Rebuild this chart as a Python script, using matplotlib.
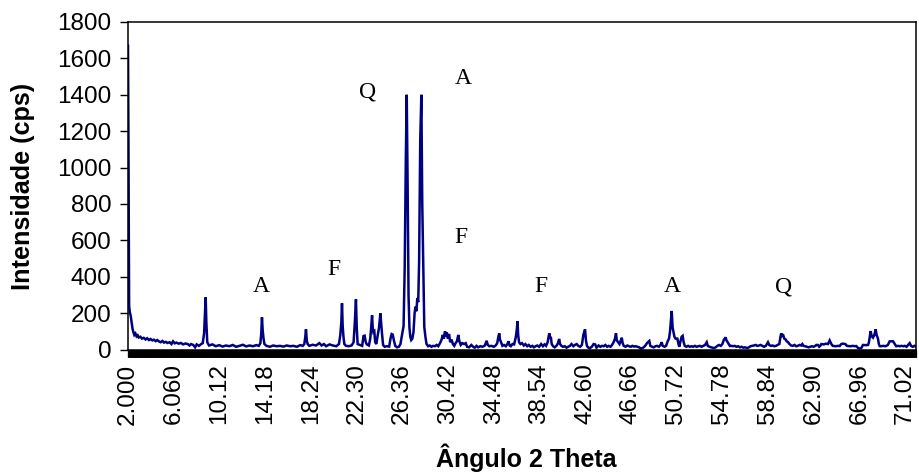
import numpy as np
import matplotlib
matplotlib.use("Agg")
import matplotlib.pyplot as plt

# Diffractogram: 2-theta angle (degrees) and measured intensity (cps)
two_theta = [
    2.00, 2.02, 2.04, 2.06, 2.08, 2.10, 2.16, 2.24, 2.32, 2.40, 2.48, 2.56, 2.66, 2.76, 2.86, 2.96,
    3.10, 3.24, 3.40, 3.56, 3.70, 3.86, 4.00, 4.16, 4.30, 4.46, 4.60, 4.76, 4.90, 5.06, 5.20, 5.36,
    5.50, 5.70, 5.86, 6.00, 6.16, 6.30, 6.50, 6.70, 6.90, 7.10, 7.30, 7.46, 7.60, 7.80, 7.96, 8.10,
    8.30, 8.50, 8.64, 8.76, 8.84, 8.90, 8.96, 9.04, 9.20,
    9.50, 9.80, 10.10, 10.40, 10.70, 11.00, 11.30, 11.60, 11.90, 12.20, 12.50, 12.80, 13.10, 13.40,
    13.62, 13.76, 13.84, 13.90, 13.96, 14.04, 14.12, 14.30, 14.60, 14.90, 15.20, 15.50, 15.80, 16.10,
    16.40, 16.70, 17.00, 17.30, 17.52, 17.66, 17.75, 17.81, 17.88, 17.96, 18.10, 18.40, 18.70, 19.00,
    19.20, 19.40, 19.60, 19.90, 20.20, 20.50, 20.74, 20.86, 20.95, 21.01, 21.07, 21.14, 21.22, 21.36,
    21.60, 21.86, 22.04, 22.15, 22.25, 22.32, 22.40, 22.60, 22.80,
    22.92, 23.02, 23.12, 23.22, 23.40, 23.52, 23.60, 23.68, 23.74, 23.80, 23.88, 23.96, 24.06, 24.16,
    24.30, 24.42, 24.48, 24.56, 24.66, 24.80, 25.00, 25.20, 25.32, 25.42, 25.52, 25.62, 25.74, 25.90,
    26.06, 26.20, 26.34, 26.48, 26.58, 26.68, 26.76, 26.84, 26.92, 27.00, 27.08, 27.16, 27.26, 27.36,
    27.46, 27.54, 27.62, 27.70, 27.78, 27.86, 27.96, 28.06, 28.14, 28.22, 28.32, 28.42, 28.52, 28.66,
    28.80, 28.96, 29.10, 29.26, 29.42, 29.56, 29.72, 29.86, 29.96, 30.06, 30.16, 30.24, 30.32, 30.42,
    30.52, 30.62, 30.74, 30.86, 30.98, 31.10, 31.22, 31.34, 31.44, 31.56, 31.70, 31.86, 32.00,
    32.12, 32.30, 32.50, 32.66, 32.80, 32.96, 33.10, 33.30, 33.50, 33.70, 33.86, 33.96, 34.10, 34.30,
    34.50, 34.66, 34.80, 34.90, 34.98, 35.04, 35.14, 35.26, 35.40, 35.56, 35.70, 35.80, 35.90, 36.00,
    36.16, 36.30, 36.44, 36.54, 36.60, 36.66, 36.74, 36.86, 37.00, 37.16, 37.30, 37.46, 37.60, 37.76,
    37.92, 38.06, 38.20, 38.36, 38.52, 38.70, 38.86, 39.00, 39.14, 39.28, 39.36, 39.43, 39.50, 39.56,
    39.64, 39.76, 39.90, 40.06, 40.20, 40.30, 40.38, 40.50, 40.64, 40.80, 40.96, 41.10, 41.26, 41.40,
    41.56, 41.70, 41.86, 42.00, 42.16, 42.32, 42.45, 42.60, 42.68, 42.78, 42.90, 43.04, 43.20, 43.36,
    43.50, 43.62, 43.80, 43.96, 44.10, 44.26, 44.40, 44.56, 44.70, 44.86, 45.00, 45.14, 45.26, 45.35,
    45.42, 45.54, 45.66, 45.78, 45.86, 45.94, 46.04,
    46.20, 46.36, 46.50, 46.66, 46.80, 46.96, 47.10, 47.26, 47.40, 47.56, 47.72, 47.86, 48.00, 48.10,
    48.31, 48.40, 48.56, 48.70, 48.86, 49.00, 49.16, 49.30, 49.41, 49.50, 49.66, 49.80, 49.94, 50.06,
    50.15, 50.30, 50.38, 50.44, 50.54, 50.64, 50.80, 50.90, 50.97, 51.06, 51.18, 51.27, 51.36, 51.46,
    51.60, 51.76, 51.90, 52.06, 52.20, 52.36,
    52.50, 52.66, 52.80, 52.96, 53.10, 53.26, 53.41, 53.50, 53.66, 53.80, 53.94, 54.05, 54.20, 54.36,
    54.50, 54.66, 54.80, 54.94, 55.02, 55.09, 55.16, 55.24, 55.36, 55.47, 55.60, 55.76, 55.90, 56.06,
    56.20, 56.36, 56.50, 56.66, 56.80, 57.01, 57.16, 57.30, 57.46, 57.60, 57.76, 57.90, 58.06, 58.20,
    58.36, 58.50, 58.66, 58.85, 58.96, 59.10, 59.26, 59.40, 59.56, 59.70, 59.86, 59.96, 60.03, 60.12,
    60.21, 60.30, 60.42, 60.52, 60.63, 60.76, 60.90, 61.06, 61.20, 61.36, 61.50, 61.66, 61.80, 61.90,
    62.00, 62.16, 62.30, 62.46,
    62.60, 62.76, 62.90, 63.06, 63.14, 63.29, 63.40, 63.50, 63.59, 63.80, 64.00, 64.18, 64.33, 64.48,
    64.60, 64.71, 64.90, 65.06, 65.22, 65.36, 65.50, 65.72, 65.86, 65.96, 66.20, 66.40, 66.56, 66.70,
    66.85, 67.00, 67.14, 67.29, 67.50, 67.74, 67.82, 67.88, 67.97, 68.04, 68.10, 68.18, 68.30, 68.42,
    68.50, 68.62, 68.70, 68.77, 68.90, 69.10, 69.30, 69.50, 69.66, 69.80, 69.96, 70.11, 70.24, 70.40,
    70.56, 70.70, 70.86, 71.00, 71.16, 71.30, 71.44, 71.56, 71.70, 71.86, 72.00,
]

intensity = [
    1670, 1450, 1150, 800, 450, 240, 205, 185, 150, 115, 95, 80, 88, 72, 78, 66,
    70, 60, 64, 55, 62, 52, 58, 50, 54, 46, 52, 44, 40, 47, 38, 42,
    36, 40, 30, 45, 34, 38, 32, 36, 28, 33, 30, 22, 30, 25, 12, 28,
    20, 30, 35, 90, 200, 287, 150, 40, 22,
    28, 18, 24, 16, 22, 18, 25, 15, 20, 26, 17, 22, 18, 24,
    20, 35, 90, 177, 110, 60, 30, 20, 15, 22, 18, 20, 16, 22,
    18, 20, 15, 24, 20, 30, 70, 111, 50, 30, 20, 26, 22, 35,
    22, 30, 18, 28, 22, 18, 30, 80, 150, 254, 130, 70, 30, 20,
    18, 22, 40, 150, 276, 120, 30, 25, 20,
    74, 76, 40, 28, 22, 60, 120, 188, 120, 95, 100, 40, 30, 70,
    120, 199, 150, 90, 25, 15, 18, 16, 60, 85, 82, 50, 20, 12,
    15, 30, 80, 129, 450, 1050, 1400, 900, 300, 120, 70, 52, 60, 95,
    200, 235, 210, 283, 260, 480, 1150, 1400, 800, 490, 124, 70, 30, 18,
    22, 15, 20, 18, 25, 18, 35, 55, 80, 60, 100, 70, 95, 60,
    85, 40, 55, 30, 20, 35, 45, 80, 45, 25, 35, 30, 35,
    15, 12, 25, 15, 10, 20, 12, 18, 15, 22, 48, 25, 18, 20,
    15, 22, 35, 70, 89, 55, 40, 20, 25, 18, 30, 45, 22, 18,
    30, 28, 65, 110, 156, 80, 40, 30, 35, 22, 30, 18, 25, 15,
    20, 12, 18, 22, 15, 30, 18, 28, 20, 40, 70, 89, 60, 70,
    30, 18, 12, 20, 35, 58, 30, 20, 15, 18, 10, 15, 20, 30,
    18, 25, 30, 20, 15, 25, 80, 111, 50, 18, 10, 8, 15, 30,
    28, 10, 22, 15, 20, 18, 25, 15, 20, 15, 25, 40, 60, 89,
    50, 40, 30, 50, 65, 35, 20,
    15, 22, 18, 15, 20, 16, 18, 15, 12, 5, 8, 15, 25, 35,
    47, 20, 15, 12, 18, 20, 15, 25, 40, 20, 15, 20, 45, 60,
    100, 212, 120, 100, 70, 60, 60, 30, 15, 40, 70, 75, 40, 20,
    15, 20, 15, 18, 15, 20,
    15, 18, 20, 15, 20, 25, 40, 20, 15, 12, 10, 8, 12, 20,
    25, 20, 30, 55, 60, 67, 50, 43, 30, 19, 20, 18, 20, 15,
    18, 12, 15, 10, 12, 8, 12, 18, 20, 22, 25, 20, 22, 25,
    20, 15, 20, 40, 25, 20, 22, 18, 20, 25, 30, 70, 89, 75,
    78, 60, 55, 45, 40, 30, 22, 20, 25, 18, 20, 25, 22, 30,
    20, 18, 15, 12,
    15, 18, 15, 20, 25, 25, 15, 20, 30, 28, 32, 30, 50, 30,
    20, 19, 18, 20, 19, 30, 32, 30, 20, 19, 18, 20, 18, 19,
    8, 6, 8, 25, 24, 25, 40, 65, 101, 80, 70, 65, 80, 111,
    80, 60, 30, 19, 18, 20, 18, 25, 45, 45, 45, 30, 18, 20,
    18, 20, 18, 20, 15, 25, 35, 20, 15, 20, 15,
]

# Category labels along the angle axis (one every 203 steps of 0.02 degrees)
tick_labels = ["2.000", "6.060", "10.12", "14.18", "18.24", "22.30", "26.36", "30.42", "34.48",
               "38.54", "42.60", "46.66", "50.72", "54.78", "58.84", "62.90", "66.96", "71.02"]
tick_values = [2.00, 6.06, 10.12, 14.18, 18.24, 22.30, 26.36, 30.42, 34.48,
               38.54, 42.60, 46.66, 50.72, 54.78, 58.84, 62.90, 66.96, 71.02]

# Phase identifications (Q quartz, A, F) placed above the reflections
phase_letters = ["Q", "A", "F", "F", "A", "F", "A", "Q"]
phase_angle = [23.32, 31.76, 31.58, 20.30, 13.81, 38.69, 50.32, 60.27]
phase_height = [1415, 1492, 613, 437, 344, 344, 344, 344]

sans = ["Liberation Sans", "DejaVu Sans"]
plt.rcParams["font.family"] = sans

W, H, DPI = 920, 474, 100
fig = plt.figure(figsize=(W / DPI, H / DPI), dpi=DPI)
ax = fig.add_axes([128 / W, 1 - 349.5 / H, (916 - 128) / W, (349.5 - 22) / H])

ax.plot(two_theta, intensity, color="#000080", lw=1.8, solid_joinstyle="miter")

ax.set_xlim(2.0, 72.0)
ax.set_ylim(0, 1800)
ax.set_yticks(np.arange(0, 1801, 200))

ax.set_xticks(tick_values)
ax.set_xticklabels(tick_labels, rotation=90)
step_ticks = np.round(np.arange(2.0, 72.0001, 0.02), 2)
ax.set_xticks(step_ticks, minor=True)

ax.tick_params(axis="y", direction="out", length=6, width=1.0, color="black",
               labelsize=17.5, pad=6)
ax.tick_params(axis="x", which="both", direction="out", length=5, width=0.8,
               color="black", labelsize=17.5, pad=5)

for side in ["left", "bottom", "top", "right"]:
    ax.spines[side].set_color("black")
    ax.spines[side].set_linewidth(1.1)

# Axis titles placed in figure pixels
fig.text(23 / W, 1 - 186 / H, "Intensidade (cps)", rotation=90, ha="center", va="center",
         fontsize=18.2, fontweight="bold")
fig.text(526 / W, 1 - 467 / H, "Ângulo 2 Theta", ha="center", va="baseline",
         fontsize=18, fontweight="bold")

for letter, x, y in zip(phase_letters, phase_angle, phase_height):
    ax.text(x, y, letter, ha="center", va="center", fontsize=17,
            family=["Liberation Serif", "DejaVu Serif"], color="black")

fig.savefig("out.png", dpi=DPI)
